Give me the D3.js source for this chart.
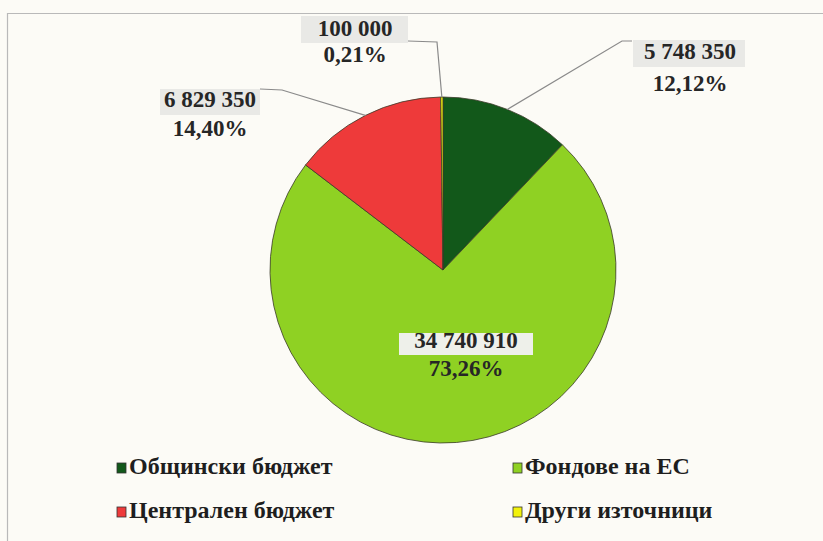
<!DOCTYPE html>
<html><head><meta charset="utf-8">
<script src="https://cdn.jsdelivr.net/npm/d3@7"></script>
<style>
html,body{margin:0;padding:0;background:#fcfbf6;}
svg{display:block;}
</style></head>
<body>
<svg id="chart" width="823" height="541"></svg>
<script>
const categories = ["Общински бюджет", "Фондове на ЕС", "Централен бюджет", "Други източници"];
const values = [5748350, 34740910, 6829350, 100000];
const valueLabels = ["5 748 350", "34 740 910", "6 829 350", "100 000"];
const percentLabels = ["12,12%", "73,26%", "14,40%", "0,21%"];
const colors = ["#12581a", "#8fd123", "#ee3a3a", "#f2f20c"];

const svg = d3.select("#chart");
const W = 823, H = 541;
svg.append("rect").attr("width", W).attr("height", H).attr("fill", "#fcfbf6");
// frame
svg.append("path").attr("d", `M7.5,${H} V13.5 H${W}`).attr("fill","none").attr("stroke","#b9b9b9").attr("stroke-width",1.2);

const cx = 443, cy = 270, R = 173;
const g = svg.append("g").attr("transform", `translate(${cx},${cy})`);
const data = categories.map((c,i)=>({cat:c, value:values[i], vl:valueLabels[i], pl:percentLabels[i], color:colors[i]}));
const pie = d3.pie().sort(null).value(d=>d.value).startAngle(0).endAngle(2*Math.PI);
const arcs = pie(data);
const arc = d3.arc().innerRadius(0).outerRadius(R);
const edge = d3.arc().innerRadius(R).outerRadius(R);

g.selectAll("path.slice").data(arcs).join("path")
  .attr("class","slice")
  .attr("d", arc)
  .attr("fill", d=>d.data.color)
  .attr("stroke", "#3a3a2a").attr("stroke-width", 0.8);

// label layout (positions of label blocks, relative to page)
const labelLayout = {
  "Общински бюджет": {x:690, y1:54, y2:86, box:[633,40,112,27], lead:[[622,41],[632,41]]},
  "Фондове на ЕС": {x:466, y1:343, y2:371, box:[399,333,134,22], lead:null},
  "Централен бюджет": {x:210, y1:102, y2:131, box:[160,89,100,26], lead:[[282,90],[260,89]]},
  "Други источници": null,
  "Други източници": {x:355, y1:31, y2:57, box:[301,16,107,27], lead:[[437,42],[408,41]]}
};

const fnt = "'Liberation Serif','Times New Roman',serif";
arcs.forEach(a=>{
  const L = labelLayout[a.data.cat];
  const c = edge.centroid(a);
  if (L.lead){
    const pts = [[c[0]+cx, c[1]+cy]].concat(L.lead);
    svg.append("path").attr("d", d3.line()(pts)).attr("fill","none").attr("stroke","#8a8a8a").attr("stroke-width",1.2);
  }
  svg.append("rect").attr("x",L.box[0]).attr("y",L.box[1]).attr("width",L.box[2]).attr("height",L.box[3])
    .attr("fill", a.data.cat==="Фондове на ЕС" ? "#eef0ea" : "#e9e9e6");
  svg.append("text").attr("x",L.x).attr("y",L.y1).attr("text-anchor","middle").attr("dominant-baseline","middle")
    .attr("font-family",fnt).attr("font-weight","bold").attr("font-size",23).attr("fill","#262626").text(a.data.vl);
  svg.append("text").attr("x",L.x).attr("y",L.y2).attr("text-anchor","middle").attr("dominant-baseline","middle")
    .attr("font-family",fnt).attr("font-weight","bold").attr("font-size",23).attr("fill","#262626").text(a.data.pl);
});

// legend
const legendPos = [[117,468],[513,468],[117,512],[513,512]];
data.forEach((d,i)=>{
  const [lx,ly] = legendPos[i];
  svg.append("rect").attr("x",lx).attr("y",ly-5).attr("width",9).attr("height",10)
    .attr("fill",d.color).attr("stroke","#333").attr("stroke-width",0.8);
  svg.append("text").attr("x",lx+12).attr("y",ly).attr("dominant-baseline","middle")
    .attr("font-family",fnt).attr("font-weight","bold").attr("font-size",24).attr("fill","#1e1e1e")
    .text(d.cat);
});
</script>
</body></html>
